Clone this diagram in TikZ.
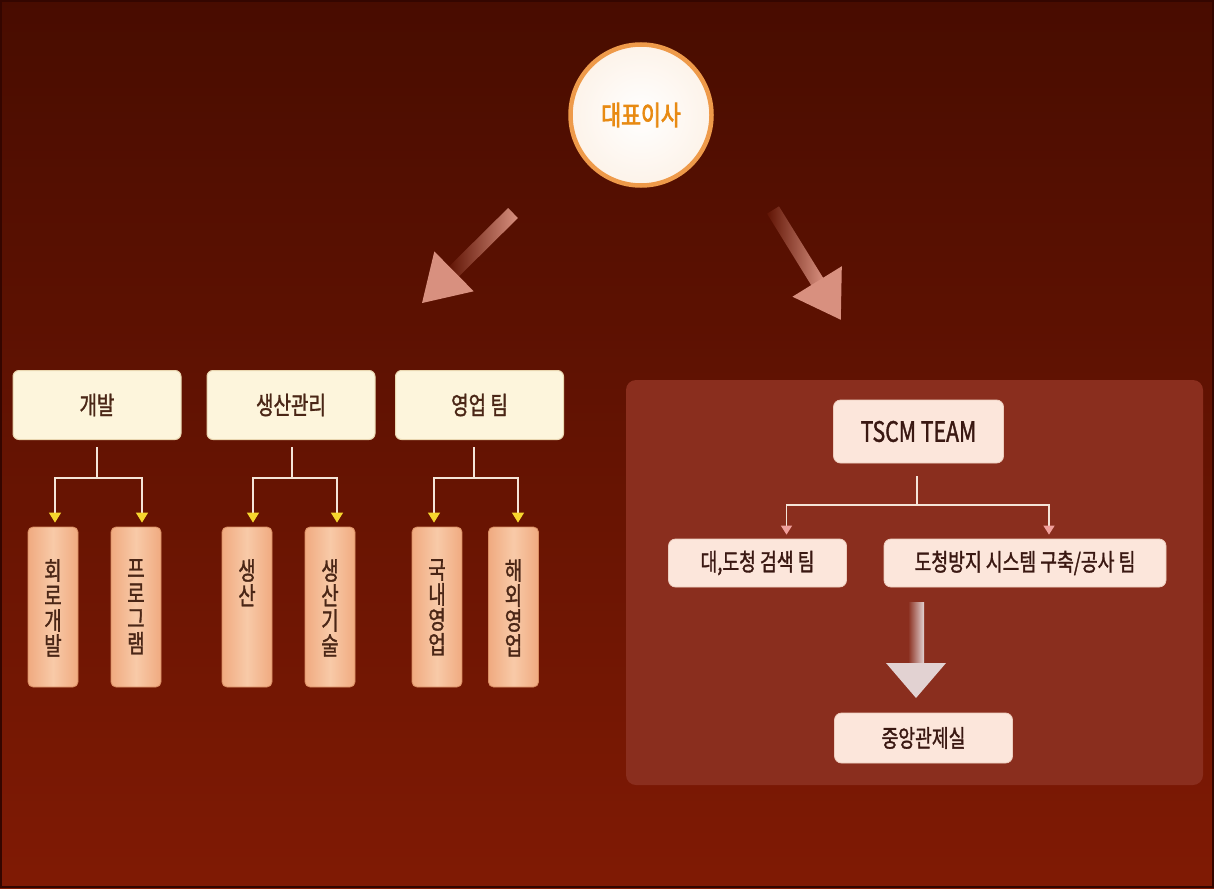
\documentclass[tikz,border=0pt]{standalone}
\usepackage{fontspec}
\newfontfamily\kr[FakeStretch=0.76,FakeBold=1.3]{Noto Sans CJK KR}
\newfontfamily\krb[FakeStretch=0.8,FakeBold=2.5]{Noto Sans CJK KR}
\usetikzlibrary{arrows.meta}
\definecolor{bgtop}{HTML}{480C00}
\definecolor{bgbot}{HTML}{801A04}
\definecolor{bgedge}{HTML}{340600}
\definecolor{topfill}{HTML}{FDF5DC}
\definecolor{topdraw}{HTML}{E9D6B0}
\definecolor{txt}{HTML}{4A2616}
\definecolor{txtb}{HTML}{3A1812}
\definecolor{vmid}{HTML}{F8CAA8}
\definecolor{vedge}{HTML}{F0AA80}
\definecolor{vdraw}{HTML}{D98C62}
\definecolor{rfill}{HTML}{FCE6DB}
\definecolor{rdraw}{HTML}{EDCDBE}
\definecolor{panelc}{HTML}{8A2E1E}
\definecolor{linec}{HTML}{F4E4D8}
\definecolor{yel}{HTML}{F6D62E}
\definecolor{pinkarr}{HTML}{F0A09C}
\definecolor{bigpink}{HTML}{D8907F}
\definecolor{shaftbg}{HTML}{601404}
\definecolor{ringc}{HTML}{EE9A4A}
\definecolor{ceotxt}{HTML}{E88A12}
\definecolor{downhead}{HTML}{E2D2D2}
\begin{document}
\begin{tikzpicture}[x=1pt,y=-1pt,
  topbox/.style={rounded corners=6pt, fill=topfill, draw=topdraw, line width=1pt,
    minimum width=168pt, minimum height=69pt, inner sep=0pt, text=txt,
    font=\kr\fontsize{25}{28}\selectfont},
  vbox/.style={rounded corners=5pt, left color=vedge, right color=vedge, middle color=vmid,
    draw=vdraw, line width=0.8pt, minimum width=50pt, minimum height=160pt, inner sep=0pt},
  vtext/.style={text=txt, font=\kr\fontsize{25}{25}\selectfont, align=center,
    inner sep=0pt, anchor=north},
  rbox/.style={rounded corners=7pt, fill=rfill, draw=rdraw, line width=0.8pt,
    minimum height=48pt, inner sep=0pt, text=txtb, font=\kr\fontsize{24}{27}\selectfont},
  wline/.style={draw=linec, line width=1.4pt},
  yarr/.style={wline, -{Triangle[width=12pt,length=10pt,color=yel]}},
  parr/.style={wline, -{Triangle[width=11pt,length=9pt,color=pinkarr]}}
]
\useasboundingbox (0,0) rectangle (1214,888);
\shade[top color=bgtop, bottom color=bgbot] (0,0) rectangle (1214,888);
\draw[bgedge, line width=2pt] (1,1) rectangle (1213,887);

% CEO circle
\node[circle, minimum size=141pt, draw=ringc, line width=4.5pt, inner sep=0pt,
  inner color=white, outer color=white!88!ringc, text=ceotxt,
  font=\krb\fontsize{27}{30}\selectfont] (ceo) at (641,115) {대표이사};

% big arrows
\begin{scope}[shift={(513,213)}, rotate=224.7]
  \shade[left color=shaftbg, right color=bigpink] (0,-7) rectangle (84,7);
  \fill[bigpink] (83,-28) -- (128,0) -- (83,28) -- cycle;
\end{scope}
\begin{scope}[shift={(773,210)}, rotate=-58.3]
  \shade[left color=shaftbg, right color=bigpink] (0,-7) rectangle (85,7);
  \fill[bigpink] (84,-29) -- (129,0) -- (84,29) -- cycle;
\end{scope}

% left groups
\node[topbox] (dev) at (97,405) {개발};
\node[topbox] (prod) at (291,405) {생산관리};
\node[topbox] (sales) at (479.5,405) {영업 팀};

\node[vbox] (v1) at (53,607) {};
\node[vbox] (v2) at (136,607) {};
\node[vbox] (v3) at (247,607) {};
\node[vbox] (v4) at (330,607) {};
\node[vbox] (v5) at (437,607) {};
\node[vbox] (v6) at (513.5,607) {};

\node[vtext] (t1) at (53,559) {회\\로\\개\\발};
\node[vtext] (t2) at (136,559) {프\\로\\그\\램};
\node[vtext] (t3) at (247,559) {생\\산};
\node[vtext] (t4) at (330,559) {생\\산\\기\\술};
\node[vtext] (t5) at (437,559) {국\\내\\영\\업};
\node[vtext] (t6) at (513.5,559) {해\\외\\영\\업};

\coordinate (j1) at (97,478);
\coordinate (j2) at (292,478);
\coordinate (j3) at (474,478);
\draw[wline] ([yshift=-7pt]dev.south) -- (j1);
\draw[wline] ([yshift=-7pt]prod.south -| j2) -- (j2);
\draw[wline] ([yshift=-7pt]sales.south -| j3) -- (j3);
\draw[yarr] (j1) -| ([xshift=2pt,yshift=4pt]v1.north);
\draw[yarr] (j1) -| ([xshift=6pt,yshift=4pt]v2.north);
\draw[yarr] (j2) -| ([xshift=6pt,yshift=4pt]v3.north);
\draw[yarr] (j2) -| ([xshift=7pt,yshift=4pt]v4.north);
\draw[yarr] (j3) -| ([xshift=-3pt,yshift=4pt]v5.north);
\draw[yarr] (j3) -| ([xshift=4.5pt,yshift=4pt]v6.north);

% right panel
\fill[panelc, rounded corners=10pt] (626,380) rectangle (1203,785);

\node[rbox, minimum width=170pt, minimum height=63pt,
  font=\kr\fontsize{28}{30}\selectfont] (tscm) at (918.5,431.5) {TSCM TEAM};
\node[rbox, minimum width=178pt] (s1) at (757.5,563) {대,도청 검색 팀};
\node[rbox, minimum width=282pt] (s2) at (1025,563) {도청방지 시스템 구축/공사 팀};
\node[rbox, minimum width=178pt, minimum height=50pt] (ctrl) at (923.5,738) {중앙관제실};

\coordinate (j4) at (917,505);
\draw[wline] ([yshift=-13pt]tscm.south -| j4) -- (j4);
\draw[parr] (j4) -| ([xshift=29pt,yshift=4pt]s1.north);
\draw[parr] (j4) -| ([xshift=24pt,yshift=4pt]s2.north);

\begin{scope}[shift={(916,602)}, rotate=-90]
  \shade[left color=panelc, right color=downhead] (0,-8) rectangle (62,8);
  \fill[downhead] (61,-30) -- (96,0) -- (61,30) -- cycle;
\end{scope}
\end{tikzpicture}
\end{document}
